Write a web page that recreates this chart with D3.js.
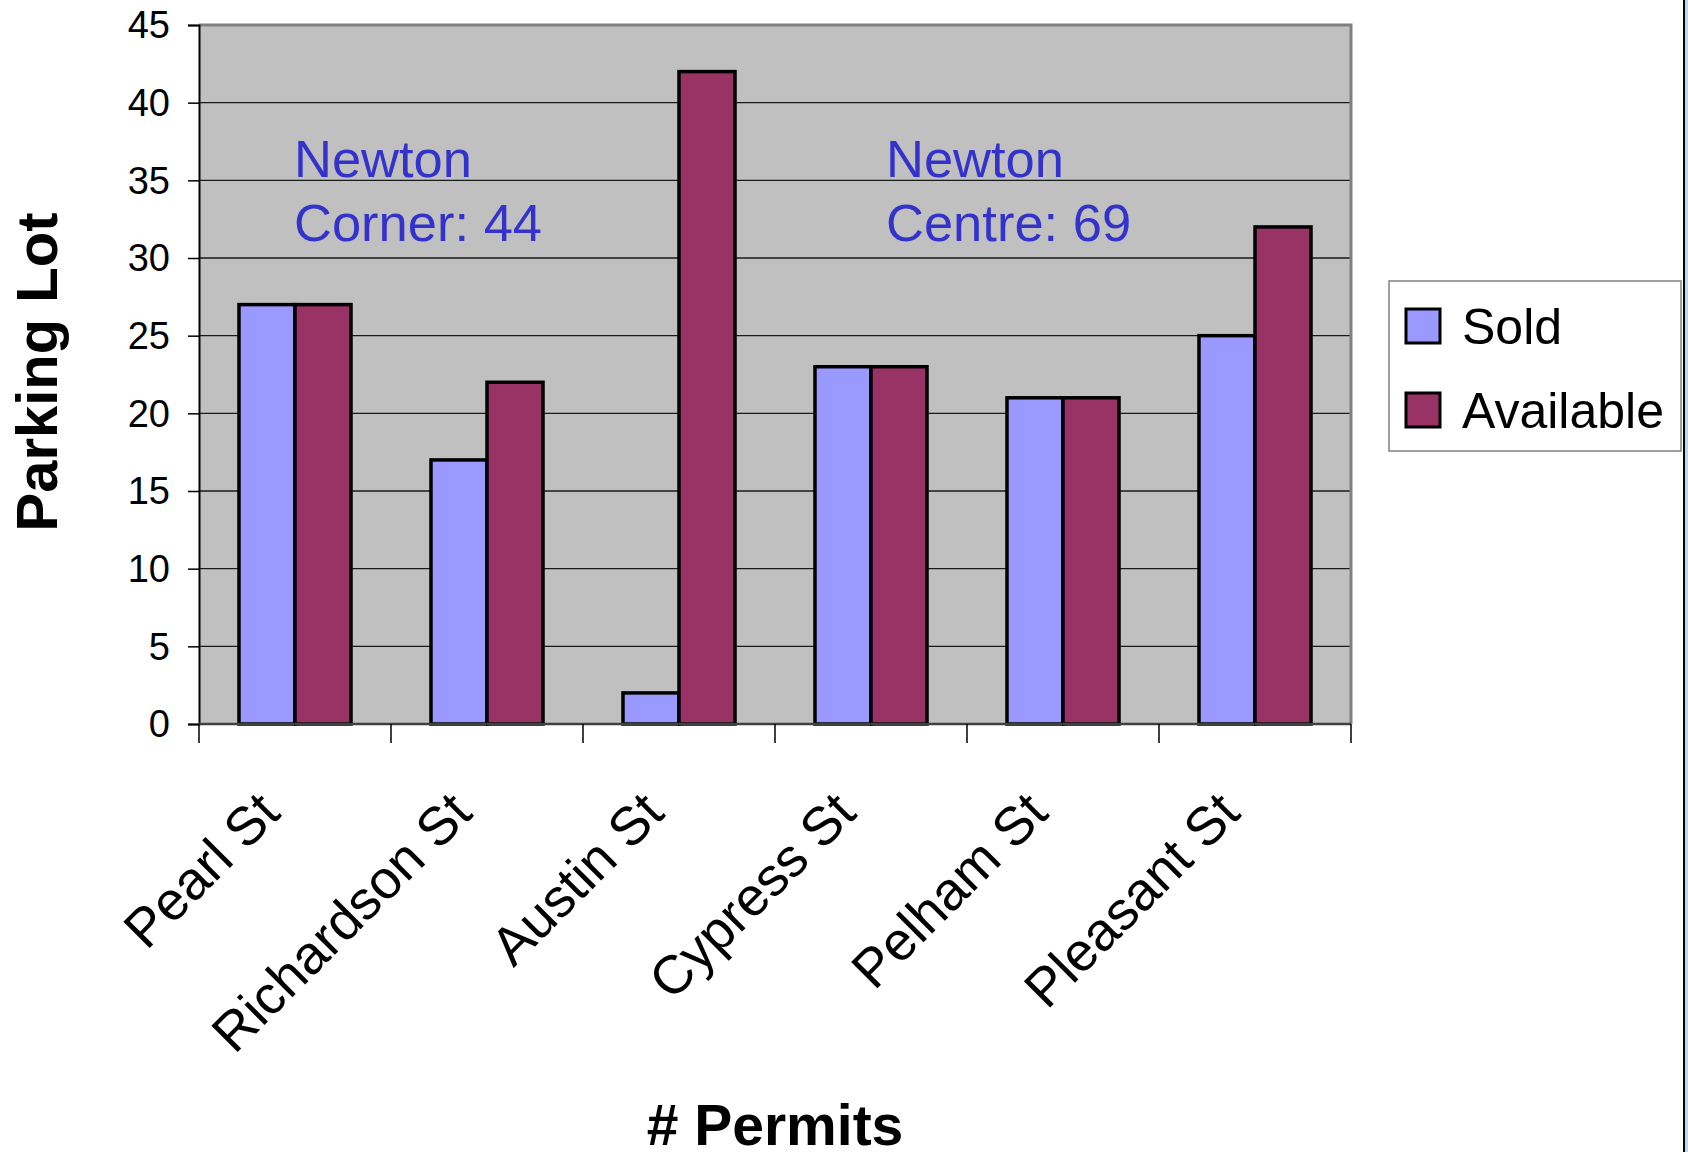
<!DOCTYPE html>
<html>
<head>
<meta charset="utf-8">
<script src="https://cdn.jsdelivr.net/npm/d3@7"></script>
<style>
  html, body { margin: 0; padding: 0; background: #fff; }
  svg { display: block; font-family: Arial, "Liberation Sans", sans-serif; }
</style>
</head>
<body>
<svg id="chart" width="1688" height="1152"></svg>
<script>
// Parking permits per lot
const categories = ["Pearl St", "Richardson St", "Austin St", "Cypress St", "Pelham St", "Pleasant St"];
const seriesNames = ["Sold", "Available"];
const soldValues = [27, 17, 2, 23, 21, 25];
const availableValues = [27, 22, 42, 23, 21, 32];
const yTicks = [0, 5, 10, 15, 20, 25, 30, 35, 40, 45];
const noteLines = [["Newton", "Corner: 44"], ["Newton", "Centre: 69"]];
const noteCategories = ["Pearl St", "Cypress St"];

const colors = { Sold: "#9999FF", Available: "#993366" };

const svg = d3.select("#chart");
const plot = { left: 199, right: 1351, top: 25, bottom: 724 };

const x = d3.scaleBand().domain(categories).range([plot.left, plot.right]).paddingInner(0).paddingOuter(0);
const inner = d3.scaleBand().domain(seriesNames).range([0, x.bandwidth()]).paddingInner(0).paddingOuter(0.714);
const y = d3.scaleLinear().domain([0, 45]).range([plot.bottom, plot.top]);

// plot background
svg.append("rect")
  .attr("x", plot.left).attr("y", plot.top)
  .attr("width", plot.right - plot.left).attr("height", plot.bottom - plot.top)
  .attr("fill", "#C0C0C0");

// gridlines
svg.append("g").selectAll("line")
  .data(yTicks.filter(d => d > 0 && d < 45))
  .join("line")
  .attr("x1", plot.left).attr("x2", plot.right)
  .attr("y1", d => y(d)).attr("y2", d => y(d))
  .attr("stroke", "#1a1a1a").attr("stroke-width", 1.4);

// plot frame: top and right edges
svg.append("path")
  .attr("d", `M${plot.left},${plot.top}H${plot.right}V${plot.bottom}`)
  .attr("fill", "none").attr("stroke", "#808080").attr("stroke-width", 3);

// bars
const rows = categories.map((c, i) => ({ cat: c, values: [
  { key: "Sold", value: soldValues[i] },
  { key: "Available", value: availableValues[i] }
]}));

const groups = svg.append("g").selectAll("g")
  .data(rows).join("g")
  .attr("transform", d => `translate(${x(d.cat)},0)`);

groups.selectAll("rect")
  .data(d => d.values).join("rect")
  .attr("x", d => inner(d.key))
  .attr("width", inner.bandwidth())
  .attr("y", d => y(d.value))
  .attr("height", d => y(0) - y(d.value))
  .attr("fill", d => colors[d.key])
  .attr("stroke", "#000").attr("stroke-width", 3.5);

// y axis
const yAxis = d3.axisLeft(y).tickValues(yTicks).tickSize(11).tickPadding(18).tickFormat(d3.format("d"));
const yg = svg.append("g").attr("transform", `translate(${plot.left},0)`).call(yAxis);
yg.select(".domain").attr("stroke", "#000").attr("stroke-width", 2);
yg.selectAll(".tick line").attr("stroke", "#000").attr("stroke-width", 1.5);
yg.selectAll(".tick text").attr("font-size", 38).attr("fill", "#000")
  .attr("font-family", "Arial, 'Liberation Sans', sans-serif").attr("dy", "0.34em");

// x axis: ticks at category boundaries
const boundaries = categories.map(c => x(c)).concat([plot.right]);
svg.append("line")
  .attr("x1", plot.left).attr("x2", plot.right)
  .attr("y1", plot.bottom).attr("y2", plot.bottom)
  .attr("stroke", "#404040").attr("stroke-width", 2.5);
svg.append("g").selectAll("line")
  .data(boundaries).join("line")
  .attr("x1", d => d).attr("x2", d => d)
  .attr("y1", plot.bottom).attr("y2", plot.bottom + 19)
  .attr("stroke", "#000").attr("stroke-width", 1.5);

// rotated category labels
svg.append("g").selectAll("text")
  .data(categories).join("text")
  .attr("transform", d => `translate(${x(d) + x.bandwidth() / 2 - 26},${plot.bottom + 78}) rotate(-45)`)
  .attr("text-anchor", "end")
  .attr("dy", "0.35em")
  .attr("font-size", 54)
  .attr("fill", "#000")
  .text(d => d);

// annotations
const noteOffsets = [95, 111];
noteLines.forEach((lines, k) => {
  const nx = x(noteCategories[k]) + noteOffsets[k];
  const t = svg.append("text")
    .attr("x", nx)
    .attr("y", 177)
    .attr("font-size", 52.5)
    .attr("fill", "#3333CC");
  lines.forEach((line, i) => {
    t.append("tspan").attr("x", nx).attr("dy", i === 0 ? 0 : 64).text(line);
  });
});

// axis titles
svg.append("text")
  .attr("transform", `translate(57,372) rotate(-90)`)
  .attr("text-anchor", "middle")
  .attr("font-size", 58).attr("font-weight", "bold").attr("fill", "#000")
  .text("Parking Lot");

svg.append("text")
  .attr("x", 775).attr("y", 1145)
  .attr("text-anchor", "middle")
  .attr("font-size", 57).attr("font-weight", "bold").attr("fill", "#000")
  .text("# Permits");

// legend
const legend = svg.append("g");
legend.append("rect")
  .attr("x", 1389).attr("y", 281).attr("width", 292).attr("height", 170)
  .attr("fill", "#fff").attr("stroke", "#808080").attr("stroke-width", 1.5);
const legendRow = legend.selectAll("g.item").data(seriesNames).join("g")
  .attr("class", "item")
  .attr("transform", (d, i) => `translate(1406,${309 + i * 84})`);
legendRow.append("rect")
  .attr("width", 34).attr("height", 34)
  .attr("fill", d => colors[d]).attr("stroke", "#000").attr("stroke-width", 3);
legendRow.append("text")
  .attr("x", 56).attr("y", 35)
  .attr("font-size", 50).attr("fill", "#000")
  .text(d => d);

// right-hand page edge
svg.append("rect").attr("x", 1685).attr("y", 0).attr("width", 3).attr("height", 1152).attr("fill", "#B8D8F8");
svg.append("line").attr("x1", 1684).attr("x2", 1684).attr("y1", 0).attr("y2", 1152)
  .attr("stroke", "#000").attr("stroke-width", 2);
</script>
</body>
</html>
